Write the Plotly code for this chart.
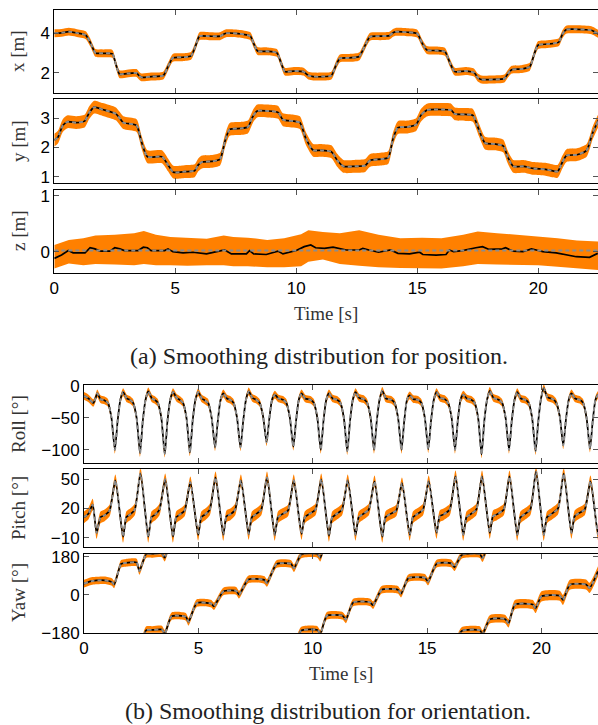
import plotly.graph_objects as go

W, H = 598, 725
ORANGE = "#ff8000"
GRAY = "#8c8c8c"

# ---------------- position data ----------------
x_t = [0, 0.3, 0.6, 0.9, 1.3, 1.5, 1.7, 2.0, 2.4, 2.55, 2.7, 3.0, 3.4, 3.5, 3.6, 4.0, 4.5, 4.7, 4.9, 5.3,
       5.65, 5.85, 6.0, 6.4, 6.85, 7.0, 7.1, 7.6, 8.1, 8.25, 8.4, 8.8, 9.2, 9.37, 9.53, 9.9, 10.3, 10.5,
       10.7, 11.1, 11.45, 11.65, 11.8, 12.2, 12.6, 12.85, 13.05, 13.5, 13.85, 14.0, 14.1, 14.6, 15.0, 15.2,
       15.4, 15.8, 16.15, 16.35, 16.55, 17.0, 17.35, 17.5, 17.65, 18.1, 18.6, 18.75, 18.9, 19.3, 19.65,
       19.85, 20.0, 20.4, 20.85, 21.0, 21.15, 21.6, 22.2, 22.5]
x_est = [4.0, 4.02, 4.08, 4.02, 3.9, 3.5, 3.0, 2.98, 2.95, 2.4, 1.92, 1.95, 1.98, 1.85, 1.76, 1.8, 1.85, 2.3,
         2.75, 2.78, 2.85, 3.4, 3.85, 3.85, 3.85, 3.95, 4.0, 3.98, 3.85, 3.45, 3.1, 3.08, 3.0, 2.5, 2.05,
         2.08, 2.05, 1.85, 1.8, 1.8, 1.85, 2.4, 2.72, 2.75, 2.82, 3.4, 3.82, 3.85, 3.88, 4.02, 4.07, 4.05,
         3.98, 3.5, 3.15, 3.12, 3.05, 2.5, 2.05, 2.08, 2.0, 1.75, 1.65, 1.65, 1.7, 1.95, 2.15, 2.18, 2.3,
         3.0, 3.4, 3.45, 3.55, 3.95, 4.18, 4.2, 4.15, 3.95]
x_band = 0.2

y_t = [0, 0.15, 0.35, 0.55, 0.9, 1.25, 1.45, 1.65, 2.0, 2.55, 2.7, 2.85, 3.4, 3.6, 3.85, 4.45, 4.7, 4.92,
       5.4, 5.8, 5.95, 6.1, 6.5, 6.85, 7.05, 7.25, 7.7, 8.0, 8.2, 8.38, 8.8, 9.25, 9.45, 9.9, 10.15, 10.4,
       10.7, 11.0, 11.45, 11.7, 11.95, 12.4, 12.85, 13.0, 13.1, 13.5, 13.8, 14.0, 14.2, 14.6, 14.95, 15.15,
       15.4, 16.0, 16.4, 16.55, 17.0, 17.3, 17.55, 17.8, 18.2, 18.55, 18.75, 18.97, 19.4, 19.8, 20.3, 20.8,
       21.0, 21.17, 21.6, 22.0, 22.25, 22.5]
y_est = [2.25, 2.35, 2.75, 2.88, 2.85, 2.9, 3.2, 3.38, 3.3, 3.15, 3.0, 2.85, 2.75, 2.2, 1.68, 1.68, 1.4, 1.15,
         1.17, 1.2, 1.4, 1.5, 1.52, 1.6, 2.2, 2.62, 2.65, 2.7, 3.05, 3.25, 3.25, 3.2, 2.95, 2.9, 2.85, 2.3,
         1.9, 1.9, 1.85, 1.55, 1.35, 1.35, 1.38, 1.52, 1.57, 1.6, 1.65, 2.3, 2.68, 2.7, 2.78, 3.1, 3.28,
         3.3, 3.28, 3.15, 3.13, 3.1, 2.6, 2.15, 2.12, 2.05, 1.65, 1.35, 1.35, 1.28, 1.25, 1.18, 1.5, 1.72,
         1.75, 1.9, 2.5, 2.95]
y_band = 0.22

z_t = [0, 0.3, 0.58, 0.78, 1.27, 1.48, 1.68, 1.89, 2.3, 2.5, 2.71, 2.9, 3.47, 3.68, 3.85, 4.0, 4.56, 4.7,
       4.9, 5.32, 5.73, 6.29, 6.9, 7.04, 7.32, 7.94, 8.07, 8.24, 8.76, 9.24, 9.45, 10.0, 10.33, 10.6, 10.8,
       11.16, 11.52, 11.8, 12.07, 12.6, 12.75, 13.0, 13.4, 13.9, 14.2, 14.68, 15.1, 15.23, 15.78, 16.19,
       16.33, 16.5, 16.87, 17.42, 17.7, 17.97, 18.52, 18.65, 18.96, 19.37, 19.72, 19.92, 20.19, 20.74,
       21.22, 21.57, 22.12, 22.46]
z_est = [-0.12, -0.06, 0.02, -0.02, -0.02, 0.07, 0.05, 0.01, 0.01, 0.07, 0.05, 0.02, 0.02, 0.08, 0.07, 0.02,
         0.02, 0.05, 0.0, -0.02, -0.01, -0.04, 0.02, 0.03, -0.04, -0.04, 0.02, -0.04, -0.05, 0.01, -0.04,
         0.02, 0.09, 0.12, 0.07, 0.06, 0.08, 0.06, 0.03, 0.03, 0.06, 0.03, -0.01, 0.03, -0.03, -0.04, -0.01,
         -0.05, -0.06, -0.05, 0.03, 0.0, 0.02, 0.07, 0.09, 0.04, 0.05, 0.07, 0.01, 0.0, 0.05, 0.03, 0.0,
         -0.02, -0.06, -0.09, -0.1, -0.03]
z_band_t = [0, 0.6, 1.2, 1.7, 2.5, 3.3, 3.7, 4.2, 4.8, 5.5, 6.3, 7.0, 7.4, 8.0, 8.8, 9.5, 10.2, 10.5, 11.1,
            11.8, 12.6, 13.4, 14.3, 15.2, 16.0, 16.9, 17.5, 18.3, 19.2, 20.0, 20.8, 21.6, 22.5]
z_upper = [0.12, 0.21, 0.24, 0.29, 0.30, 0.33, 0.37, 0.30, 0.26, 0.24, 0.23, 0.29, 0.26, 0.25, 0.21, 0.24,
           0.31, 0.38, 0.35, 0.33, 0.38, 0.30, 0.24, 0.25, 0.24, 0.30, 0.36, 0.33, 0.30, 0.27, 0.24, 0.20, 0.18]
z_lower = [-0.30, -0.21, -0.24, -0.22, -0.23, -0.24, -0.22, -0.24, -0.24, -0.25, -0.24, -0.24, -0.26, -0.26,
           -0.28, -0.28, -0.26, -0.18, -0.14, -0.22, -0.25, -0.28, -0.29, -0.30, -0.30, -0.26, -0.22, -0.23,
           -0.24, -0.24, -0.27, -0.30, -0.33]
z_truth_t = [0, 22.5]
z_truth = [0.02, 0.02]

# ---------------- orientation data ----------------
roll_t = [0, 0.2, 0.41, 0.5, 0.58, 0.72,
          0.90, 1.05, 1.20, 1.35, 1.47, 1.59, 1.71, 1.87,
          2.00, 2.15, 2.30, 2.45, 2.57, 2.69, 2.81, 2.97,
          3.08, 3.23, 3.38, 3.53, 3.65, 3.77, 3.89, 4.05,
          4.18, 4.33, 4.48, 4.63, 4.75, 4.87, 4.99, 5.15,
          5.28, 5.43, 5.58, 5.73, 5.85, 5.97, 6.09, 6.25,
          6.39, 6.54, 6.69, 6.84, 6.96, 7.08, 7.20, 7.36,
          7.53, 7.68, 7.83, 7.98, 8.10, 8.22, 8.34, 8.50,
          8.70, 8.85, 9.00, 9.15, 9.27, 9.39, 9.51, 9.67,
          9.90, 10.05, 10.20, 10.35, 10.47, 10.59, 10.71, 10.87,
          11.06, 11.21, 11.36, 11.51, 11.63, 11.75, 11.87, 12.03,
          12.23, 12.38, 12.53, 12.68, 12.80, 12.92, 13.04, 13.20,
          13.43, 13.58, 13.73, 13.88, 14.00, 14.12, 14.24, 14.40,
          14.60, 14.75, 14.90, 15.05, 15.17, 15.29, 15.41, 15.57,
          15.77, 15.92, 16.07, 16.22, 16.34, 16.46, 16.58, 16.74,
          16.93, 17.08, 17.23, 17.38, 17.50, 17.62, 17.74, 17.90,
          18.13, 18.28, 18.43, 18.58, 18.70, 18.82, 18.94, 19.10,
          19.29, 19.44, 19.59, 19.74, 19.86, 19.98, 20.10, 20.26,
          20.50, 20.65, 20.80, 20.95, 21.07, 21.19, 21.31, 21.47,
          21.67, 21.82, 21.97, 22.12, 22.24, 22.36, 22.48, 22.64]
roll_v = [-16, -20, -27, -20, -12, -21,
          -23, -27, -50, -100, -55, -22, -10, -20,
          -22, -27, -50, -105, -55, -22, -9, -20,
          -22, -27, -50, -106, -55, -22, -10, -19,
          -22, -27, -50, -104, -55, -22, -10, -20,
          -23, -27, -50, -96, -55, -22, -12, -20,
          -22, -27, -50, -96, -55, -22, -9, -19,
          -22, -27, -48, -88, -52, -22, -14, -20,
          -22, -27, -50, -95, -55, -22, -12, -20,
          -22, -27, -50, -100, -55, -22, -12, -20,
          -22, -27, -50, -102, -55, -22, -10, -19,
          -21, -27, -50, -100, -55, -22, -8, -20,
          -22, -27, -50, -100, -55, -22, -15, -21,
          -22, -27, -50, -99, -55, -22, -10, -19,
          -21, -27, -50, -100, -55, -22, -14, -20,
          -22, -27, -50, -107, -55, -22, -8, -19,
          -22, -27, -50, -100, -55, -22, -10, -20,
          -22, -27, -50, -102, -55, -20, -4, -18,
          -21, -27, -48, -93, -52, -22, -12, -20,
          -22, -27, -50, -98, -55, -22, -14, -20]
roll_band = 6

pitch_t = [0, 0.2, 0.38, 0.55, 0.72, 0.9,
           1.12, 1.37, 1.71, 1.85, 2.02,
           2.22, 2.47, 2.81, 2.95, 3.12,
           3.30, 3.55, 3.89, 4.03, 4.20,
           4.40, 4.65, 4.99, 5.13, 5.30,
           5.50, 5.75, 6.09, 6.23, 6.40,
           6.61, 6.86, 7.20, 7.34, 7.51,
           7.75, 8.00, 8.34, 8.48, 8.65,
           8.92, 9.17, 9.51, 9.65, 9.82,
           10.12, 10.37, 10.71, 10.85, 11.02,
           11.28, 11.53, 11.87, 12.01, 12.18,
           12.45, 12.70, 13.04, 13.18, 13.35,
           13.65, 13.90, 14.24, 14.38, 14.55,
           14.82, 15.07, 15.41, 15.55, 15.72,
           15.99, 16.24, 16.58, 16.72, 16.89,
           17.15, 17.40, 17.74, 17.88, 18.05,
           18.35, 18.60, 18.94, 19.08, 19.25,
           19.51, 19.76, 20.10, 20.24, 20.41,
           20.72, 20.97, 21.31, 21.45, 21.62,
           21.89, 22.14, 22.48, 22.62]
pitch_v = [11, 15, 24, -5, 11, 13,
           18, 49, -9, 11, 14,
           19, 56, -9, 11, 14,
           19, 50, -9, 11, 14,
           18, 47, -7, 11, 14,
           19, 52, -7, 12, 14,
           19, 49, -6, 11, 14,
           19, 52, -7, 11, 14,
           18, 49, -6, 11, 14,
           19, 50, -8, 11, 14,
           19, 49, -7, 11, 14,
           19, 48, -9, 11, 14,
           18, 46, -7, 11, 14,
           19, 48, -5, 12, 14,
           19, 53, -7, 11, 14,
           19, 53, -5, 12, 14,
           19, 53, -7, 11, 14,
           19, 58, -7, 11, 14,
           20, 56, -5, 12, 15,
           19, 48, -7, 11]
pitch_band = 6

# yaw, unwrapped (displayed modulo 360 on a [-180, 180] axis)
yaw_t = [0, 0.37, 0.9, 1.22, 1.32, 1.62, 1.8, 2.3, 2.42, 2.72, 3.0, 3.4, 3.53, 3.83, 4.45, 4.57, 4.93, 5.55,
         5.68, 6.09, 6.65, 6.78, 7.18, 7.88, 8.0, 8.42, 9.05, 9.18, 9.5, 10.2, 10.33, 10.62, 11.3, 11.45,
         11.77, 12.5, 12.64, 13.01, 13.72, 13.86, 14.18, 14.9, 15.04, 15.42, 16.05, 16.2, 16.51, 17.3,
         17.42, 17.74, 18.4, 18.56, 18.84, 19.62, 19.74, 20.0, 20.8, 20.94, 21.24, 21.95, 22.1, 22.47]
yaw_v = [52, 65, 68, 60, 48, 146, 150, 152, 112, 192, 193, 195, 175, 258, 255, 232, 320, 318, 305, 375, 378,
         360, 432, 430, 415, 505, 505, 485, 550, 553, 535, 620, 620, 603, 683, 684, 670, 743, 743, 725, 798,
         800, 782, 867, 868, 850, 908, 912, 893, 963, 965, 945, 1033, 1033, 1015, 1072, 1075, 1055, 1127,
         1128, 1112, 1190]
yaw_band = [18, 18, 18, 18, 18, 18, 18, 18, 18, 18, 18, 18, 18, 18, 18, 18, 18, 18, 18, 18, 18, 18, 18, 18,
            18, 18, 18, 18, 18, 18, 18, 18, 18, 18, 18, 18, 18, 18, 18, 18, 18, 18, 18, 18, 18, 18, 18, 18,
            18, 20, 20, 20, 22, 22, 22, 24, 24, 24, 24, 24, 24, 24]

x_ticks = [0, 5, 10, 15, 20]

fig = go.Figure()


def band(t, lo, hi, ax, shape="spline"):
    fig.add_trace(go.Scatter(x=t, y=hi, mode="lines", line=dict(width=0, shape=shape, smoothing=0.6),
                             xaxis="x" + ax, yaxis="y" + ax, showlegend=False, hoverinfo="skip"))
    fig.add_trace(go.Scatter(x=t, y=lo, mode="lines", line=dict(width=0, shape=shape, smoothing=0.6),
                             fill="tonexty", fillcolor=ORANGE,
                             xaxis="x" + ax, yaxis="y" + ax, showlegend=False, hoverinfo="skip"))


def lines(t, est, tt, truth, ax, shape="spline"):
    fig.add_trace(go.Scatter(x=t, y=est, mode="lines",
                             line=dict(color="black", width=1.7, shape=shape, smoothing=0.6),
                             xaxis="x" + ax, yaxis="y" + ax, showlegend=False))
    fig.add_trace(go.Scatter(x=tt, y=truth, mode="lines",
                             line=dict(color=GRAY, width=2, dash="4px,3px", shape=shape, smoothing=0.6),
                             xaxis="x" + ax, yaxis="y" + ax, showlegend=False))


def shift(vals, d):
    return [v + d for v in vals]


# panel 1: x
band(x_t, shift(x_est, -x_band), shift(x_est, x_band), "")
lines(x_t, x_est, x_t, x_est, "")
# panel 2: y
band(y_t, shift(y_est, -y_band), shift(y_est, y_band), "2")
lines(y_t, y_est, y_t, y_est, "2")
# panel 3: z
band(z_band_t, z_lower, z_upper, "3", shape="linear")
lines(z_t, z_est, z_truth_t, z_truth, "3", shape="linear")
# panel 4: roll
band(roll_t, shift(roll_v, -roll_band), shift(roll_v, roll_band), "4")
lines(roll_t, roll_v, roll_t, roll_v, "4")
# panel 5: pitch
band(pitch_t, shift(pitch_v, -pitch_band), shift(pitch_v, pitch_band), "5")
lines(pitch_t, pitch_v, pitch_t, pitch_v, "5")
# panel 6: yaw (wrapped copies, clipped by the axis range)
for k in range(4):
    yv = shift(yaw_v, -360 * k)
    band(yaw_t, [a - b for a, b in zip(yv, yaw_band)], [a + b for a, b in zip(yv, yaw_band)], "6")
for k in range(4):
    yv = shift(yaw_v, -360 * k)
    lines(yaw_t, yv, yaw_t, yv, "6")

TICKFONT = dict(family="Liberation Sans, Arial, sans-serif", size=17, color="black")


def xdom(l):
    return [l / W, 1.0]


def ydom(top, bot):
    return [1 - bot / H, 1 - top / H]


common = dict(showline=True, linecolor="black", linewidth=1, mirror="ticks", ticks="inside",
              ticklen=5, tickwidth=1, tickcolor="#555555", showgrid=False, zeroline=False,
              tickfont=TICKFONT, automargin=False)

panels = [
    ("", 54.3, 10, 92.7, [0.98, 5.18], [2, 4], False),
    ("2", 54.3, 99.3, 182.7, [0.79, 3.65], [1, 2, 3], False),
    ("3", 54.3, 190, 272.7, [-0.375, 1.10], [0, 1], True),
    ("4", 84, 385, 462.7, [-120, 1], [-100, -50, 0], False),
    ("5", 84, 469.3, 546.7, [-19.2, 60.3], [-10, 20, 50], False),
    ("6", 84, 554.3, 632.7, [-180, 191], [-180, 0, 180], True),
]
lay = {}
for ax, left, top, bot, yr, yt, showx in panels:
    key = ax if ax else ""
    lay["xaxis" + key] = dict(domain=xdom(left), range=[0, 22.47], tickvals=x_ticks,
                              showticklabels=showx, anchor="y" + key, **common)
    lay["yaxis" + key] = dict(domain=ydom(top, bot), range=yr, tickvals=yt,
                              anchor="x" + key, **common)

SERIF = "Liberation Serif, Times New Roman, serif"
ann = []
ytitles = [("x [m]", 51), ("y [m]", 141), ("z [m]", 231),
           ("Roll [°]", 424), ("Pitch [°]", 508), ("Yaw [°]", 593)]
for txt, yc in ytitles:
    ann.append(dict(text=txt, x=18 / W, y=1 - yc / H, xref="paper", yref="paper", showarrow=False,
                    textangle=-90, xanchor="center", yanchor="middle",
                    font=dict(family=SERIF, size=19, color="#333333")))
ann.append(dict(text="Time [s]", x=326 / W, y=1 - 314 / H, xref="paper", yref="paper", showarrow=False,
                xanchor="center", yanchor="middle", font=dict(family=SERIF, size=19, color="#333333")))
ann.append(dict(text="Time [s]", x=341 / W, y=1 - 673 / H, xref="paper", yref="paper", showarrow=False,
                xanchor="center", yanchor="middle", font=dict(family=SERIF, size=19, color="#333333")))
ann.append(dict(text="(a) Smoothing distribution for position.", x=319 / W, y=1 - 356 / H,
                xref="paper", yref="paper", showarrow=False, xanchor="center", yanchor="middle",
                font=dict(family=SERIF, size=24, color="#222222")))
ann.append(dict(text="(b) Smoothing distribution for orientation.", x=328 / W, y=1 - 711 / H,
                xref="paper", yref="paper", showarrow=False, xanchor="center", yanchor="middle",
                font=dict(family=SERIF, size=24, color="#222222")))

fig.update_layout(width=W, height=H, autosize=False, margin=dict(l=0, r=0, t=0, b=0, pad=0),
                  paper_bgcolor="white", plot_bgcolor="white", showlegend=False,
                  annotations=ann, **lay)

fig.write_html("out.html", config={"displayModeBar": False},
               post_script="document.body.style.margin='0';document.body.style.overflow='hidden';")
